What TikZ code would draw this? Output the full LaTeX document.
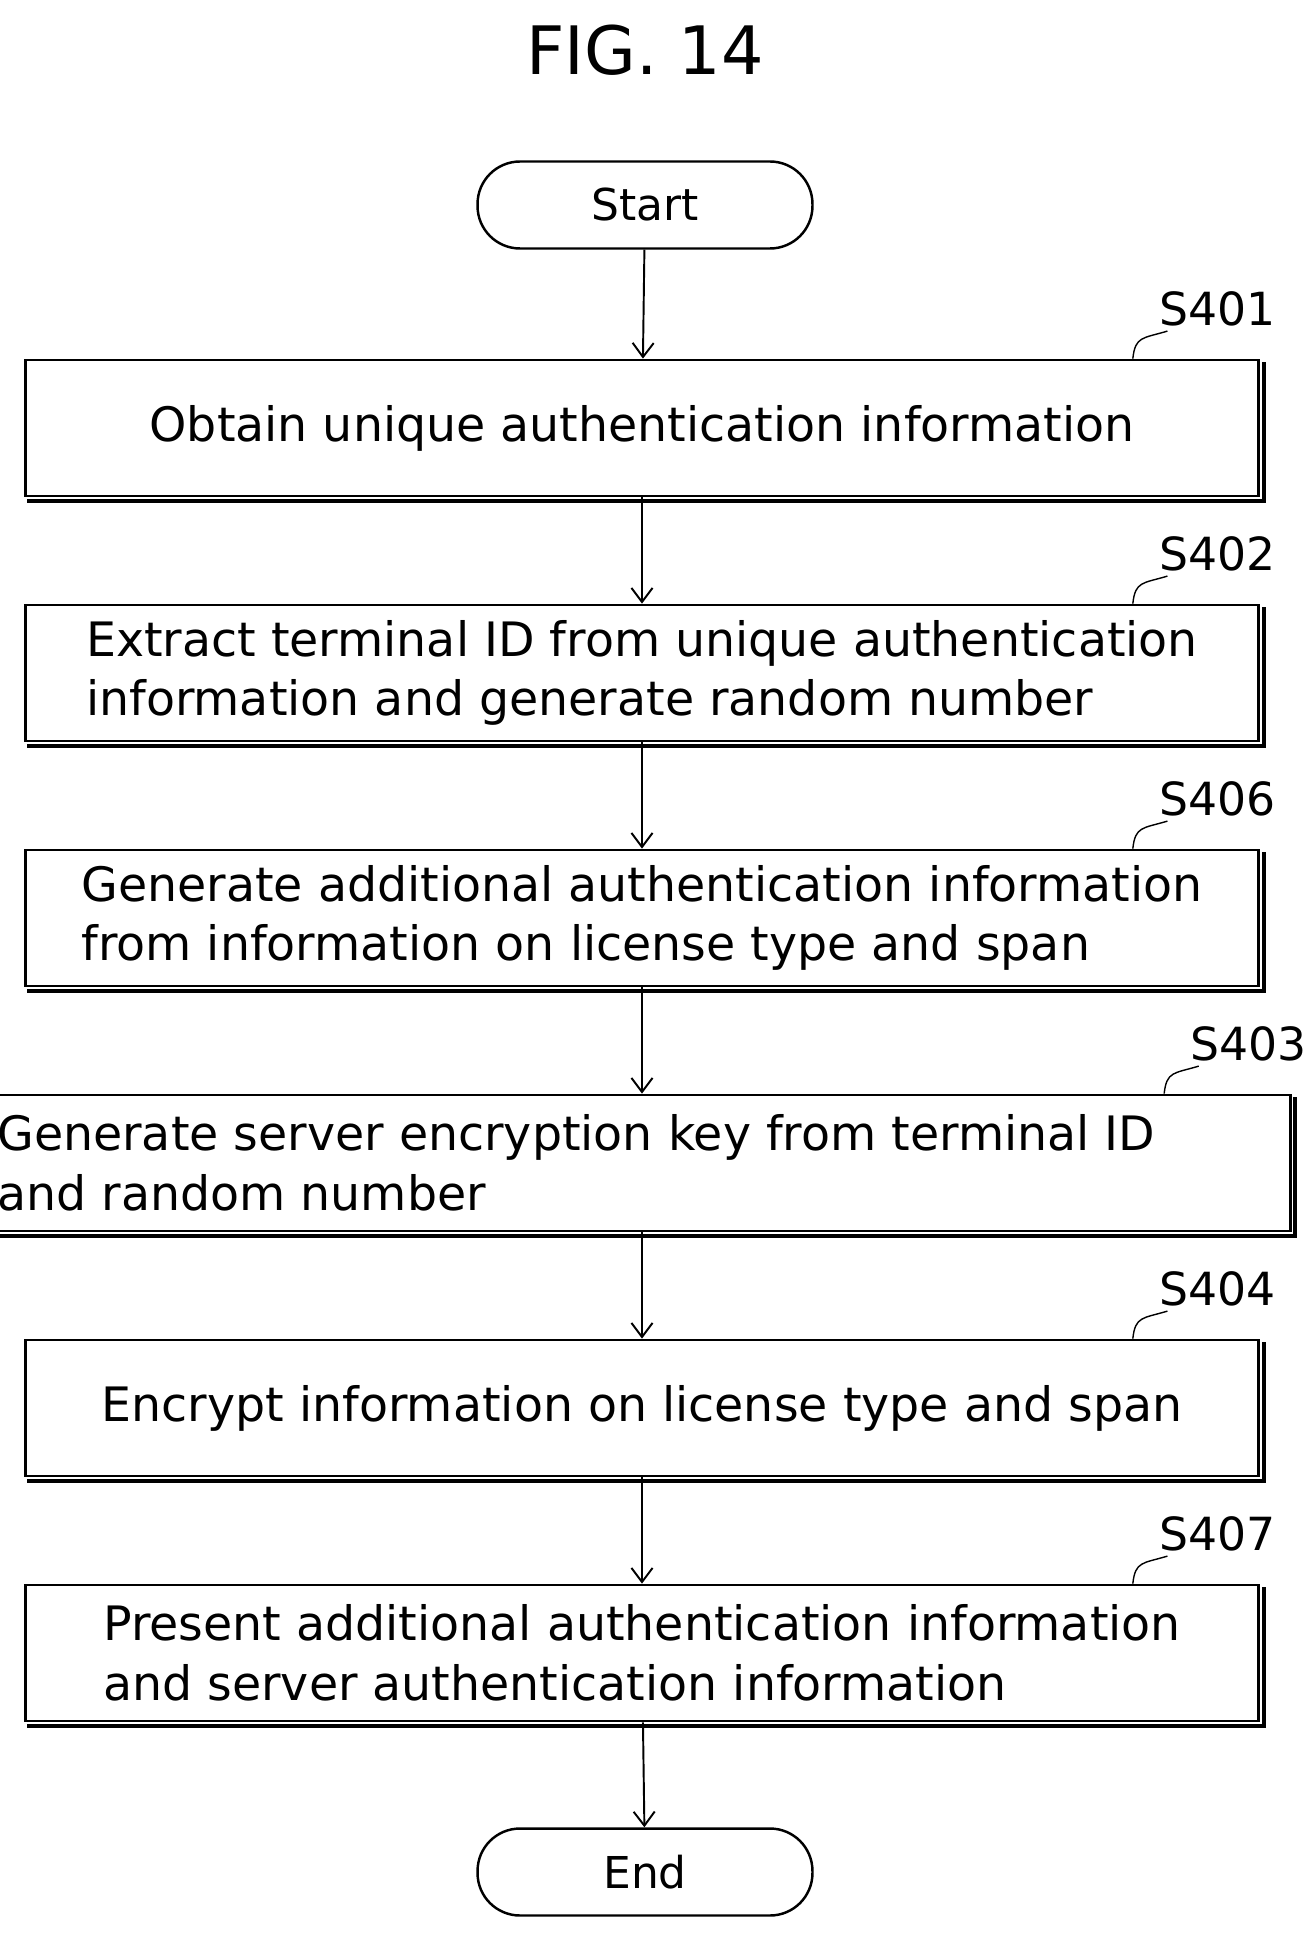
\documentclass[tikz,border=0pt]{standalone}
\usepackage{fontspec}
\setmainfont{DejaVu Sans}
\usetikzlibrary{arrows.meta,positioning}
\tikzset{
    stepbox/.style={draw, line width=1.6pt, minimum width=24.68cm, minimum height=2.72cm, align=left, font=\fontsize{27}{34}\selectfont, inner sep=2pt},
    term/.style={draw, line width=1.4pt, rounded corners=0.85cm, minimum width=6.7cm, minimum height=1.74cm, font=\fontsize{25}{30}\selectfont},
    flow/.style={-{Straight Barb[length=8pt,width=12pt]}, line width=1.1pt},
    tag/.style={font=\fontsize{26}{30}\selectfont, inner sep=1pt},
    shade/.style={line width=2.2pt}
}
\begin{document}
\begin{tikzpicture}[x=0.02cm, y=-0.02cm]
    \useasboundingbox (0,0) rectangle (1302,1942);
    % Title
    \node[font=\fontsize{38}{44}\selectfont] (title) at (645,50) {FIG. 14};

    % Terminals
    \node[term] (start) at (645,205) {Start};
    \node[term] (end) at (645,1872) {End};

    % Steps
    \node[stepbox] (s401) at (642,428) {Obtain unique authentication information};
    \node[stepbox] (s402) at (642,673) {Extract terminal ID from unique authentication\\information and generate random number};
    \node[stepbox] (s406) at (642,918) {Generate additional authentication information\\from information on license type and span};
    \node[stepbox] (s403) at (642,1163) {Generate server encryption key from terminal ID\\and random number\phantom{ number number number number}};
    \node[stepbox] (s404) at (642,1408) {Encrypt information on license type and span};
    \node[stepbox] (s407) at (642,1653) {Present additional authentication information\\and server authentication information};

    % Shadow edges and step tags
    \foreach \n/\t in {s401/S401,s402/S402,s406/S406,s403/S403,s404/S404,s407/S407} {
        \draw[shade] ([xshift=2pt,yshift=-2pt]\n.south west) -- ([xshift=2pt,yshift=-2pt]\n.south east) -- ([xshift=2pt,yshift=-2pt]\n.north east);
        \node[tag, anchor=south east] (\n tag) at ([xshift=0.35cm,yshift=0.6cm]\n.north east) {\t};
        \draw[line width=0.8pt] ([xshift=-2.55cm]\n.north east) .. controls +(0.05cm,0.45cm) and +(-0.5cm,-0.15cm) .. ([xshift=0.2cm,yshift=-0.05cm]\n tag.south west);
    }

    % Connectors
    \draw[flow] (start) -- (s401);
    \draw[flow] (s401) -- (s402);
    \draw[flow] (s402) -- (s406);
    \draw[flow] (s406) -- (s403);
    \draw[flow] (s403) -- (s404);
    \draw[flow] (s404) -- (s407);
    \draw[flow] (s407) -- (end);
\end{tikzpicture}
\end{document}
